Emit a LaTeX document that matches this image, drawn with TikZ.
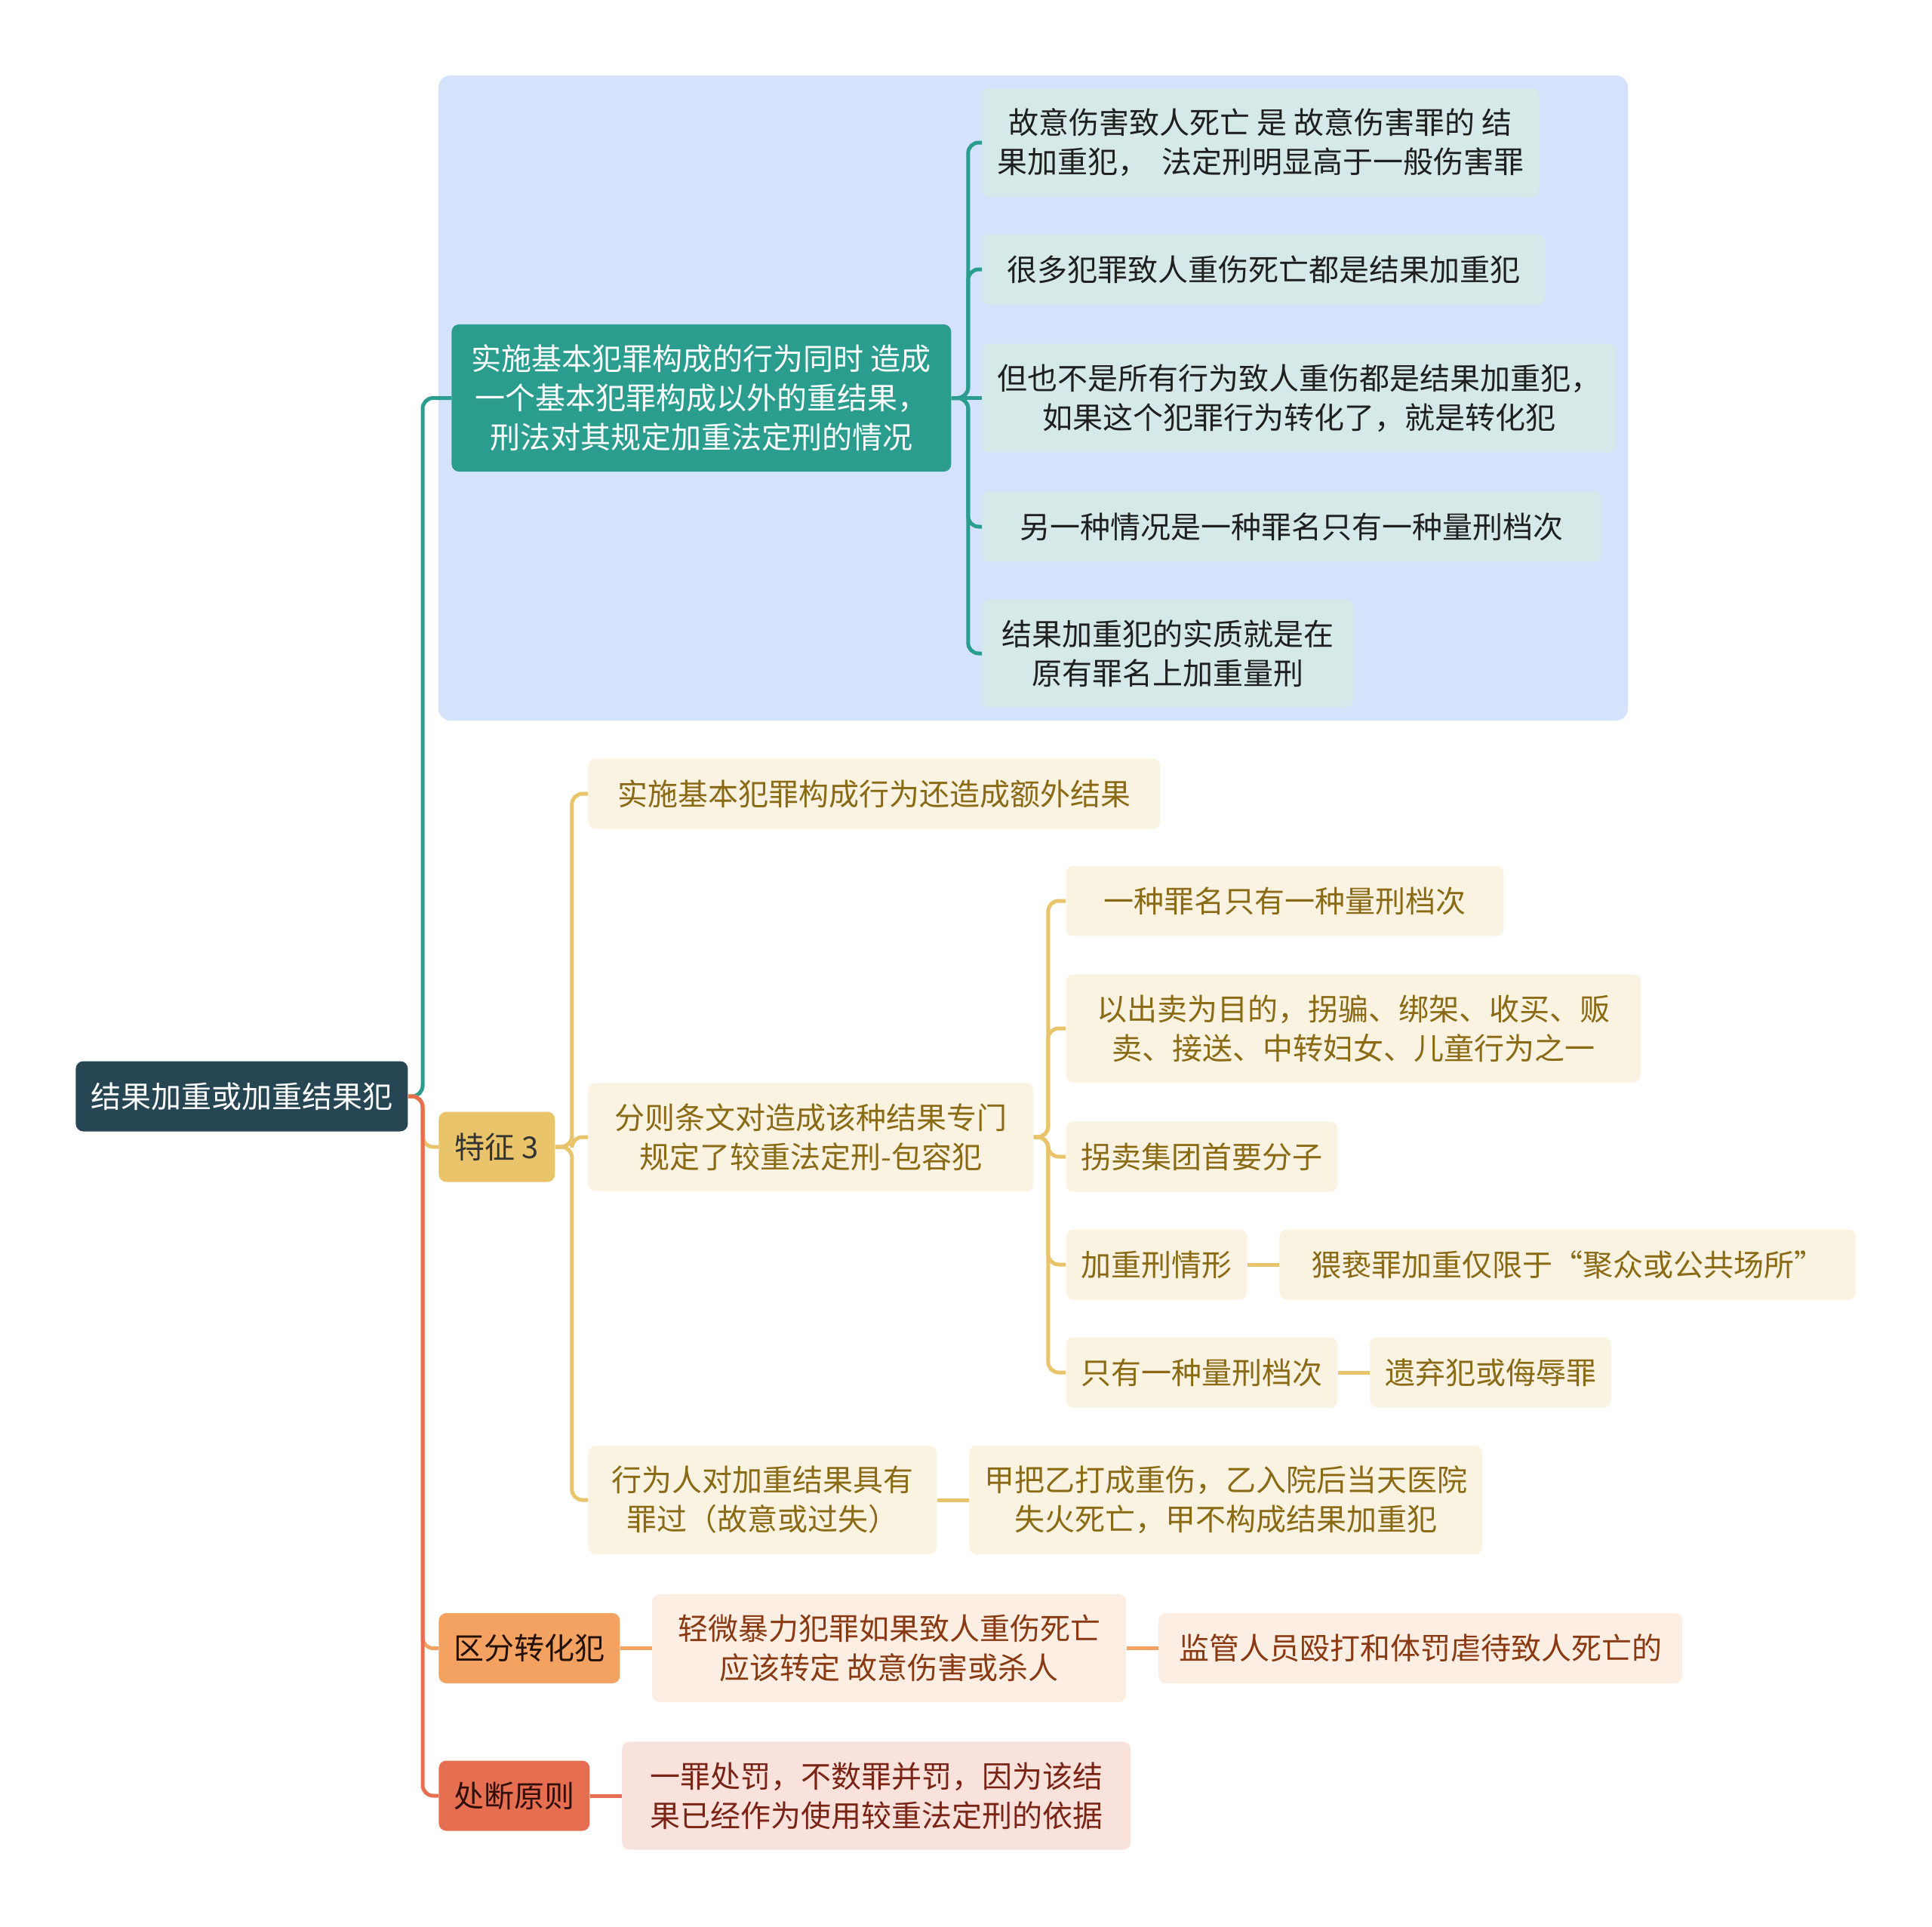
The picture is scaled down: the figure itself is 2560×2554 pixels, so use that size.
\documentclass[tikz,border=0pt]{standalone}
\usepackage{fontspec}
\setmainfont{Noto Sans CJK SC}
\usetikzlibrary{positioning}
\definecolor{rootbg}{HTML}{264653}
\definecolor{tealc}{HTML}{2A9D8F}
\definecolor{tealsoft}{HTML}{D5EAE8}
\definecolor{bluebg}{HTML}{D4E3FB}
\definecolor{gold}{HTML}{E9C46A}
\definecolor{goldsoft}{HTML}{FAF3E2}
\definecolor{goldtext}{HTML}{8A6A14}
\definecolor{orng}{HTML}{F4A261}
\definecolor{orngsoft}{HTML}{FDEEE3}
\definecolor{orngtext}{HTML}{8A3A12}
\definecolor{redc}{HTML}{E76F51}
\definecolor{redsoft}{HTML}{FAE2DC}
\definecolor{redtext}{HTML}{7A2416}

\begin{document}
\begin{tikzpicture}[x=0.5pt,y=-0.5pt,node distance=21pt,
 box/.style={rounded corners=5pt,align=center,anchor=west,
 font=\fontsize{20pt}{26pt}\selectfont,inner xsep=10pt,inner ysep=13.5pt,
 minimum height=46.5pt},
 rootbox/.style={box,fill=rootbg,text=white},
 tealbox/.style={box,fill=tealc,text=white},
 tealleaf/.style={box,fill=tealsoft,text=black!88},
 goldbox/.style={box,fill=gold,text=black!80},
 goldleaf/.style={box,fill=goldsoft,text=goldtext},
 orngbox/.style={box,fill=orng,text=black!75!orngtext},
 orngleaf/.style={box,fill=orngsoft,text=orngtext},
 redbox/.style={box,fill=redc,text=black!60!redtext},
 redleaf/.style={box,fill=redsoft,text=redtext},
 link/.style={line width=2.5pt,rounded corners=7pt},
 trunk/.style={line width=2.5pt,rounded corners=7pt}]
\useasboundingbox (0,0) rectangle (2560,2554);
\fill[bluebg,rounded corners=8pt] (581,100) rectangle (2157,955);

\node[rootbox] (root) at (100,1453) {结果加重或加重结果犯};
\coordinate (trunkpt) at (560,1453);

% definition branch
\node[tealbox,minimum width=331pt] (def) at (598,527.5) {实施基本犯罪构成的行为同时 造成\\一个基本犯罪构成以外的重结果，\\刑法对其规定加重法定刑的情况};
\node[tealleaf] (d1) at (1301,189) {故意伤害致人死亡 是 故意伤害罪的 结\\果加重犯，\ \ 法定刑明显高于一般伤害罪};
\node[tealleaf,minimum width=373pt] (d2) at (1301,357) {很多犯罪致人重伤死亡都是结果加重犯};
\node[tealleaf] (d3) at (1301,527.5) {但也不是所有行为致人重伤都是结果加重犯，\\如果这个犯罪行为转化了，就是转化犯};
\node[tealleaf,minimum width=410pt] (d4) at (1301,698) {另一种情况是一种罪名只有一种量刑档次};
\node[tealleaf,minimum width=246pt] (d5) at (1301,866) {结果加重犯的实质就是在\\原有罪名上加重量刑};

% features
\node[goldbox,minimum width=77pt] (feat) at (581,1520) {特征 3};
\node[goldleaf,minimum width=379pt] (f1) at (779,1052) {实施基本犯罪构成行为还造成额外结果};
\node[goldleaf,minimum width=295pt] (f2) at (779,1507) {分则条文对造成该种结果专门\\规定了较重法定刑-包容犯};
\node[goldleaf,minimum width=231pt] (f3) at (779,1988) {行为人对加重结果具有\\罪过（故意或过失）};
\node[goldleaf,right=of f3] (f3a) {甲把乙打成重伤，乙入院后当天医院\\失火死亡，甲不构成结果加重犯};
\node[goldleaf,minimum width=290pt] (f2a) at (1412,1194) {一种罪名只有一种量刑档次};
\node[goldleaf,minimum width=381pt] (f2b) at (1412,1363) {以出卖为目的，拐骗、绑架、收买、贩\\卖、接送、中转妇女、儿童行为之一};
\node[goldleaf] (f2c) at (1412,1533) {拐卖集团首要分子};
\node[goldleaf] (f2d) at (1412,1676) {加重刑情形};
\node[goldleaf,right=of f2d,minimum width=382pt] (f2dx) {猥亵罪加重仅限于“聚众或公共场所”};
\node[goldleaf] (f2e) at (1412,1819) {只有一种量刑档次};
\node[goldleaf,right=of f2e] (f2ex) {遗弃犯或侮辱罪};

% distinction and principle
\node[orngbox] (dist) at (581,2184.5) {区分转化犯};
\node[orngleaf,right=of dist,minimum width=314pt] (dist1) {轻微暴力犯罪如果致人重伤死亡\\应该转定 故意伤害或杀人};
\node[orngleaf,right=of dist1,minimum width=347pt] (dist2) {监管人员殴打和体罚虐待致人死亡的};
\node[redbox] (rule) at (581,2380) {处断原则};
\node[redleaf,right=of rule,minimum width=337pt] (rule1) {一罪处罚，不数罪并罚，因为该结\\果已经作为使用较重法定刑的依据};

% connectors
\draw[trunk,tealc] (root.east) -- (trunkpt) |- (def.west);
\foreach \c in {d1,d2,d4,d5}
  \draw[link,tealc] (def.east) -- ++(22,0) |- (\c.west);
\draw[link,tealc] (def.east) -- (d3.west);
\draw[trunk,gold] (root.east) -- (trunkpt) |- (feat.west);
\foreach \c in {f1,f2,f3}
  \draw[link,gold] (feat.east) -- ++(22,0) |- (\c.west);
\foreach \c in {f2a,f2b,f2c,f2d,f2e}
  \draw[link,gold] (f2.east) -- ++(19,0) |- (\c.west);
\draw[link,gold] (f2d) -- (f2dx);
\draw[link,gold] (f2e) -- (f2ex);
\draw[link,gold] (f3) -- (f3a);
\draw[trunk,orng] (root.east) -- (trunkpt) |- (dist.west);
\draw[link,orng] (dist) -- (dist1);
\draw[link,orng] (dist1) -- (dist2);
\draw[trunk,redc] (root.east) -- (trunkpt) |- (rule.west);
\draw[link,redc] (rule) -- (rule1);
\end{tikzpicture}
\end{document}
